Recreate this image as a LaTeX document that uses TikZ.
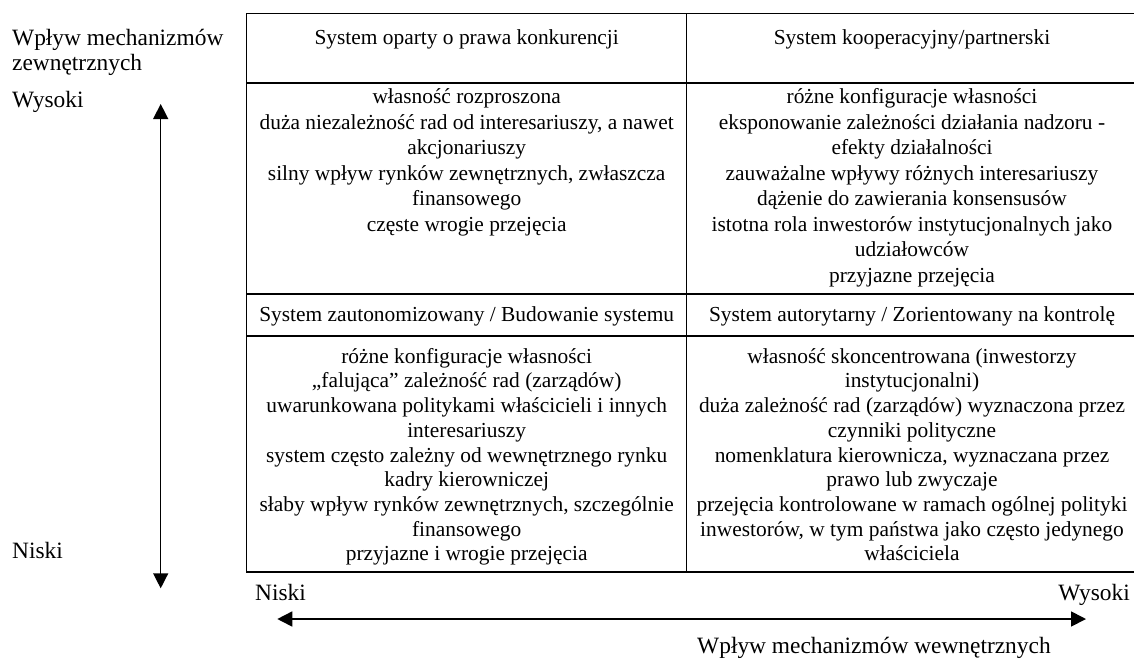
\documentclass[tikz,border=0pt]{standalone}
\usepackage{fontspec}
\setmainfont{Liberation Serif}
\usetikzlibrary{arrows.meta}
% invisible strut fixing the height of the first line of a cell
\newcommand\cellstrut{\rule{0pt}{18pt}}
\begin{document}
\begin{tikzpicture}[x=1pt,y=-1pt,
  grid/.style={line width=1.2pt},
  cell/.style={anchor=north, inner sep=0pt, align=center,
    font=\fontsize{21.4}{#1}\selectfont},
  cell/.default=25.5,
  axislabel/.style={inner sep=0pt, font=\fontsize{23.4}{25.5}\selectfont},
  axisarrow/.style={line width=#1, {Triangle[length=15pt,width=15pt]}-{Triangle[length=15pt,width=15pt]}},
]
\useasboundingbox (0,0) rectangle (1134,659);

% table frame and rules
\draw[grid] (246.7,13.3) rectangle (1137.5,572);
\draw[grid] (246.7,83) -- (1137.5,83);
\draw[grid] (246.7,294) -- (1137.5,294);
\draw[grid] (246.7,336) -- (1137.5,336);
\draw[grid] (686.7,13.3) -- (686.7,572);

% column headings
\node[cell] (h1) at (466.7,26.5) {\cellstrut System oparty o prawa konkurencji};
\node[cell] (h2) at (912,26.5) {\cellstrut System kooperacyjny/partnerski};

% upper row
\node[cell] (a) at (466.7,85.5) {\cellstrut własność rozproszona\\
duża niezależność rad od interesariuszy, a nawet\\
akcjonariuszy\\
silny wpływ rynków zewnętrznych, zwłaszcza\\
finansowego\\
częste wrogie przejęcia};
\node[cell] (b) at (912,85.5) {\cellstrut różne konfiguracje własności\\
eksponowanie zależności działania nadzoru -\\
efekty działalności\\
zauważalne wpływy różnych interesariuszy\\
dążenie do zawierania konsensusów\\
istotna rola inwestorów instytucjonalnych jako\\
udziałowców\\
przyjazne przejęcia};

% second headings
\node[cell] (h3) at (466.7,303.5) {\cellstrut System zautonomizowany / Budowanie systemu};
\node[cell] (h4) at (912,303.5) {\cellstrut System autorytarny / Zorientowany na kontrolę};

% lower row
\node[cell=24.7] (c) at (466.7,345) {\cellstrut różne konfiguracje własności\\
„falująca” zależność rad (zarządów)\\
uwarunkowana politykami właścicieli i innych\\
interesariuszy\\
system często zależny od wewnętrznego rynku\\
kadry kierowniczej\\
słaby wpływ rynków zewnętrznych, szczególnie\\
finansowego\\
przyjazne i wrogie przejęcia};
\node[cell=24.7] (d) at (912,345) {\cellstrut własność skoncentrowana (inwestorzy\\
instytucjonalni)\\
duża zależność rad (zarządów) wyznaczona przez\\
czynniki polityczne\\
nomenklatura kierownicza, wyznaczana przez\\
prawo lub zwyczaje\\
przejęcia kontrolowane w ramach ogólnej polityki\\
inwestorów, w tym państwa jako często jedynego\\
właściciela};

% vertical axis: external mechanisms
\node[axislabel, anchor=north west, align=left] (ytitle) at (12,27) {\cellstrut Wpływ mechanizmów\\zewnętrznych};
\node[axislabel, anchor=base west] (yhigh) at (12,107) {Wysoki};
\node[axislabel, anchor=base west] (ylow) at (12,558) {Niski};
\coordinate (vtop) at (160.7,104);
\coordinate (vbot) at (160.7,588.3);
\draw[axisarrow=1.4pt] (vtop) -- (vbot);

% horizontal axis: internal mechanisms
\node[axislabel, anchor=base west] (xlow) at (255,600.5) {Niski};
\node[axislabel, anchor=base east] (xhigh) at (1130,600.5) {Wysoki};
\node[axislabel, anchor=base west] (xtitle) at (697,653) {Wpływ mechanizmów wewnętrznych};
\coordinate (hleft) at (277.3,619);
\coordinate (hright) at (1086,619);
\draw[axisarrow=1.7pt] (hleft) -- (hright);
\end{tikzpicture}
\end{document}
